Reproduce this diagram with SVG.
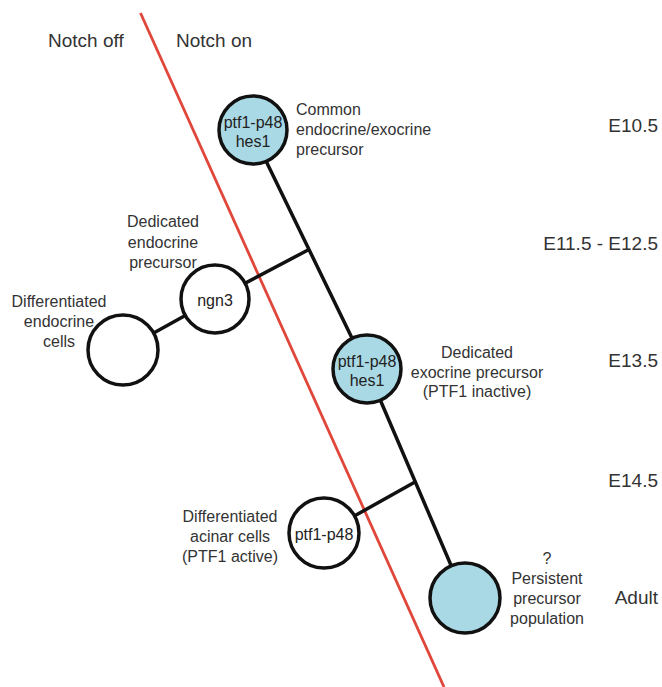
<svg xmlns="http://www.w3.org/2000/svg" width="662" height="687" viewBox="0 0 662 687">
<style>
text{font-family:"Liberation Sans",Arial,sans-serif;fill:#333}
.hdr{font-size:19px}
.stage{font-size:19px;text-anchor:end}
.lbl{font-size:16px;text-anchor:middle}
.lbll{font-size:16px}
.in{font-size:16px;text-anchor:middle;fill:#222}
.cell{stroke:#111;stroke-width:3.5;fill:#fff}
.prog{stroke:#111;stroke-width:3.5;fill:#a9d9e4}
.conn line{stroke:#111;stroke-width:3.5;stroke-linecap:round}
</style>
<rect width="662" height="687" fill="#fff"/>
<g id="notch-boundary">
<line x1="140.5" y1="13" x2="444" y2="687" stroke="#e0463a" stroke-width="2.8"/>
<text class="hdr" x="48" y="47">Notch off</text>
<text class="hdr" x="176" y="47">Notch on</text>
</g>
<g id="stages">
<text class="stage" x="658" y="132">E10.5</text>
<text class="stage" x="658" y="250">E11.5 - E12.5</text>
<text class="stage" x="658" y="367">E13.5</text>
<text class="stage" x="658" y="487">E14.5</text>
<text class="stage" x="658" y="604">Adult</text>
</g>
<g id="connectors" class="conn">
<line x1="251" y1="130" x2="367" y2="369"/>
<line x1="308" y1="250" x2="215" y2="299"/>
<line x1="215" y1="299" x2="123" y2="350"/>
<line x1="367" y1="369" x2="465" y2="598"/>
<line x1="415" y1="482" x2="324" y2="533"/>
</g>
<g id="common-precursor">
<circle class="prog" cx="253" cy="130" r="34"/>
<text class="in" x="253" y="128">ptf1-p48</text>
<text class="in" x="253" y="147">hes1</text>
<text class="lbll" x="296" y="115">Common</text>
<text class="lbll" x="296" y="135">endocrine/exocrine</text>
<text class="lbll" x="296" y="155">precursor</text>
</g>
<g id="endocrine-precursor">
<circle class="cell" cx="215" cy="299" r="34"/>
<text class="in" x="215" y="306">ngn3</text>
<text class="lbl" x="163" y="227">Dedicated</text>
<text class="lbl" x="163" y="248">endocrine</text>
<text class="lbl" x="163" y="268">precursor</text>
</g>
<g id="endocrine-cells">
<circle class="cell" cx="123" cy="350" r="35"/>
<text class="lbl" x="59" y="307">Differentiated</text>
<text class="lbl" x="59" y="327">endocrine</text>
<text class="lbl" x="59" y="347">cells</text>
</g>
<g id="exocrine-precursor">
<circle class="prog" cx="367" cy="369" r="34"/>
<text class="in" x="367" y="367">ptf1-p48</text>
<text class="in" x="367" y="386">hes1</text>
<text class="lbl" x="477" y="358">Dedicated</text>
<text class="lbl" x="477" y="378">exocrine precursor</text>
<text class="lbl" x="477" y="397">(PTF1 inactive)</text>
</g>
<g id="acinar-cells">
<circle class="cell" cx="324" cy="533" r="35"/>
<text class="in" x="324" y="540">ptf1-p48</text>
<text class="lbl" x="230" y="522">Differentiated</text>
<text class="lbl" x="230" y="542">acinar cells</text>
<text class="lbl" x="230" y="562">(PTF1 active)</text>
</g>
<g id="persistent-precursor">
<circle class="prog" cx="465" cy="598" r="35"/>
<text class="lbl" x="547" y="564">?</text>
<text class="lbl" x="547" y="584">Persistent</text>
<text class="lbl" x="547" y="604">precursor</text>
<text class="lbl" x="547" y="624">population</text>
</g>
</svg>
